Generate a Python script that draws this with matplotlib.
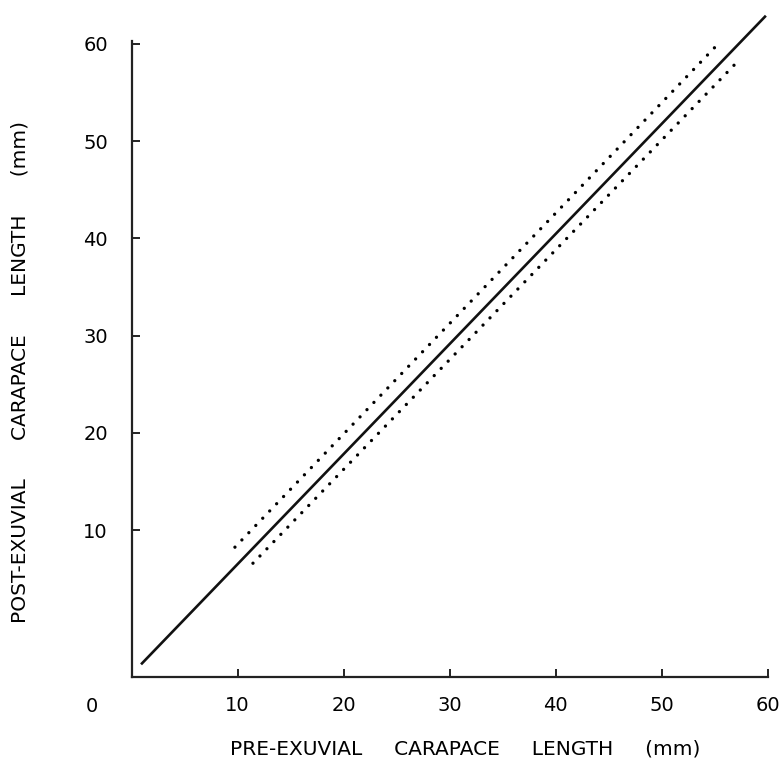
import matplotlib
matplotlib.use('Agg')
import matplotlib.pyplot as plt

# regression line and the two dotted confidence limits (mm)
fit_pre = [0.9, 59.8]
fit_post = [-3.8, 62.9]
upper_pre = [9.75, 55.3]
upper_post = [8.25, 60.0]
lower_pre = [11.45, 57.1]
lower_post = [6.6, 58.15]

ticks = [10, 20, 30, 40, 50, 60]
tick_labels = ['10', '20', '30', '40', '50', '60']

W, H = 780, 769
fig = plt.figure(figsize=(W / 100, H / 100), dpi=100)
ax = fig.add_axes([131.5 / W, 1 - 677 / H, (768 - 131.5) / W, (677 - 41) / H])

ax.plot(fit_pre, fit_post, color='#111111', lw=1.9, clip_on=False, solid_capstyle='butt')
for xs, ys in [(upper_pre, upper_post), (lower_pre, lower_post)]:
    ax.plot(xs, ys, color='black', lw=2.4, linestyle=(0, (0.01, 3.0)),
            dash_capstyle='round', clip_on=False)

ax.set_xlim(0, 60)
ax.set_ylim(-5.1, 60.3)

for s in ['top', 'right']:
    ax.spines[s].set_visible(False)
for s in ['left', 'bottom']:
    ax.spines[s].set_linewidth(1.6)
    ax.spines[s].set_color('#222222')

ax.set_xticks(ticks)
ax.set_xticklabels(tick_labels)
ax.set_yticks(ticks)
ax.set_yticklabels(tick_labels)
ax.tick_params(direction='in', length=6, width=1.4, labelsize=14, color='#222222')
ax.tick_params(axis='x', pad=14)
ax.tick_params(axis='y', pad=17)

fig.text(92 / W, 1 - 706 / H, '0', fontsize=14, ha='center', va='center')

fig.text(465 / W, 1 - 749 / H, 'PRE-EXUVIAL     CARAPACE     LENGTH     (mm)',
         fontsize=14.5, ha='center', va='center')
fig.text(20 / W, 1 - 372 / H, 'POST-EXUVIAL      CARAPACE      LENGTH      (mm)',
         fontsize=14.5, ha='center', va='center', rotation=90)

fig.savefig('out.png', dpi=100)
